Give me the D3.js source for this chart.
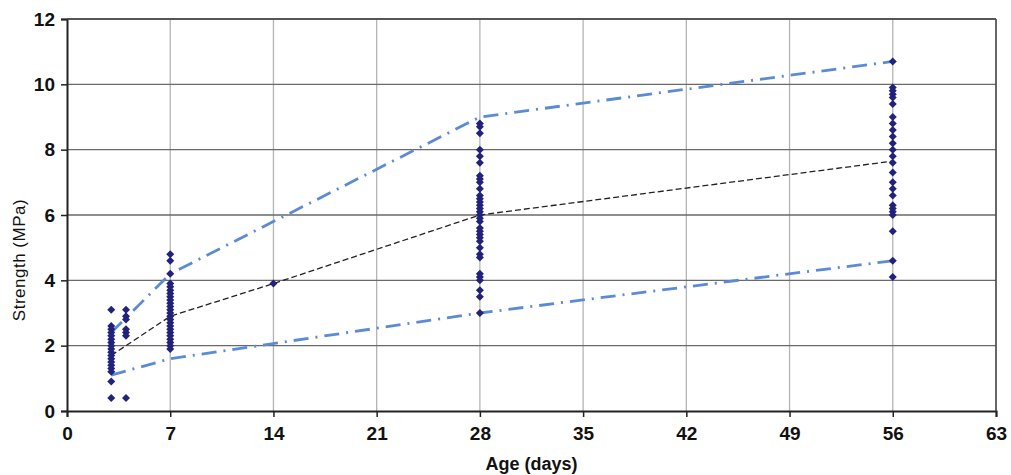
<!DOCTYPE html>
<html>
<head>
<meta charset="utf-8">
<script src="https://cdn.jsdelivr.net/npm/d3@7"></script>
<style>
  body { margin: 0; background: #fff; }
  svg { display: block; }
</style>
</head>
<body>
<div id="chart"></div>
<script>
// test results, age (days) -> strengths (MPa)
var ages = [3, 4, 7, 14, 28, 56];
var day3 = [3.1, 2.6, 2.5, 2.4, 2.3, 2.2, 2.1, 2.0, 1.9, 1.8, 1.7, 1.6, 1.5, 1.4, 1.3, 1.2, 0.9, 0.4];
var day4 = [3.1, 2.9, 2.8, 2.5, 2.4, 2.3, 0.4];
var day7 = [4.8, 4.6, 4.2, 3.9, 3.8, 3.7, 3.6, 3.5, 3.4, 3.3, 3.2, 3.1, 3.0, 2.9, 2.8, 2.7, 2.6,
    2.5, 2.4, 2.3, 2.2, 2.1, 2.0, 1.9];
var day14 = [3.9];
var day28 = [8.8, 8.7, 8.5, 8.0, 7.8, 7.6, 7.2, 7.1, 7.0, 6.8, 6.6, 6.5, 6.4, 6.3, 6.2, 6.1, 6.0,
    5.9, 5.8, 5.6, 5.5, 5.4, 5.3, 5.2, 5.0, 4.8, 4.7, 4.2, 4.1, 4.0, 3.7, 3.5, 3.0];
var day56 = [10.7, 9.9, 9.8, 9.7, 9.6, 9.4, 9.0, 8.8, 8.6, 8.4, 8.2, 8.0, 7.8, 7.6, 7.3, 7.0, 6.8,
    6.6, 6.3, 6.2, 6.1, 6.0, 5.5, 4.6, 4.1];

// envelope and mean curves
var upperAge = [3, 7, 28, 56];
var upperVal = [2.4, 4.2, 9.0, 10.7];
var lowerAge = [3, 7, 28, 56];
var lowerVal = [1.1, 1.6, 3.0, 4.6];
var meanAge = [3, 7, 14, 28, 56];
var meanVal = [1.7, 2.9, 3.9, 6.0, 7.65];

var xTicks = [0, 7, 14, 21, 28, 35, 42, 49, 56, 63];
var yTicks = [0, 2, 4, 6, 8, 10, 12];

var width = 1011, height = 475;
var margin = {left: 67, right: 15, top: 19, bottom: 64};
var w = width - margin.left - margin.right;
var h = height - margin.top - margin.bottom;

var svg = d3.select("#chart").append("svg")
    .attr("width", width)
    .attr("height", height);

var g = svg.append("g")
    .attr("transform", "translate(" + margin.left + "," + margin.top + ")");

var x = d3.scaleLinear().domain([0, 63]).range([0, w]);
var y = d3.scaleLinear().domain([0, 12]).range([h, 0]);

// vertical grid (light)
g.selectAll(".vgrid").data(xTicks.slice(1))
    .enter().append("line")
    .attr("x1", function(d) { return x(d); })
    .attr("x2", function(d) { return x(d); })
    .attr("y1", 0).attr("y2", h)
    .attr("stroke", "#b4b4b4")
    .attr("stroke-width", 1.3);

// horizontal grid (darker)
g.selectAll(".hgrid").data(yTicks.slice(1))
    .enter().append("line")
    .attr("x1", 0).attr("x2", w)
    .attr("y1", function(d) { return y(d); })
    .attr("y2", function(d) { return y(d); })
    .attr("stroke", "#6a6a6a")
    .attr("stroke-width", 1.3);

// axes
var xAxis = g.append("g")
    .attr("transform", "translate(0," + h + ")")
    .call(d3.axisBottom(x).tickValues(xTicks).tickSize(6).tickPadding(10));
var yAxis = g.append("g")
    .call(d3.axisLeft(y).tickValues(yTicks).tickSize(6).tickPadding(6));

[xAxis, yAxis].forEach(function(a) {
    a.select(".domain").attr("stroke", "#222").attr("stroke-width", 2);
    a.selectAll(".tick line").attr("stroke", "#222").attr("stroke-width", 1.5);
    a.selectAll("text")
        .attr("fill", "#111")
        .style("font-family", "'Liberation Sans', Arial, sans-serif")
        .style("font-weight", "bold")
        .style("font-size", "19px");
});
xAxis.selectAll("text")
    .style("font-family", "'Liberation Sans Narrow', 'Liberation Sans', Arial, sans-serif");

// lines
var line = d3.line()
    .x(function(d) { return x(d[0]); })
    .y(function(d) { return y(d[1]); });

function pairs(a, b) {
    return a.map(function(v, i) { return [v, b[i]]; });
}

g.append("path")
    .attr("d", line(pairs(upperAge, upperVal)))
    .attr("fill", "none")
    .attr("stroke", "#5b8bd5")
    .attr("stroke-width", 2.8)
    .attr("stroke-dasharray", "15,7,2,7");

g.append("path")
    .attr("d", line(pairs(lowerAge, lowerVal)))
    .attr("fill", "none")
    .attr("stroke", "#5b8bd5")
    .attr("stroke-width", 2.8)
    .attr("stroke-dasharray", "15,7,2,7");

g.append("path")
    .attr("d", line(pairs(meanAge, meanVal)))
    .attr("fill", "none")
    .attr("stroke", "#222")
    .attr("stroke-width", 1.3)
    .attr("stroke-dasharray", "6,3");

// points
var groups = [day3, day4, day7, day14, day28, day56];
var pts = [];
groups.forEach(function(vals, i) {
    vals.forEach(function(v) { pts.push([ages[i], v]); });
});

// squat diamond marker, ~8px wide
var diamond = "M0,-4L4,0L0,4L-4,0Z";
g.selectAll(".pt").data(pts)
    .enter().append("path")
    .attr("d", diamond)
    .attr("transform", function(d) { return "translate(" + x(d[0]) + "," + y(d[1]) + ")"; })
    .attr("fill", "#22227c");

// frame top and right
g.append("line").attr("x1", 0).attr("x2", w).attr("y1", 0).attr("y2", 0)
    .attr("stroke", "#444").attr("stroke-width", 1.5);
g.append("line").attr("x1", w).attr("x2", w).attr("y1", 0).attr("y2", h)
    .attr("stroke", "#444").attr("stroke-width", 1.5);

// titles
svg.append("text")
    .attr("x", margin.left + w / 2)
    .attr("y", 470)
    .attr("text-anchor", "middle")
    .style("font-family", "'Liberation Sans Narrow', 'Liberation Sans', Arial, sans-serif")
    .style("font-weight", "bold")
    .style("font-size", "18px")
    .attr("fill", "#111")
    .text("Age (days)");

svg.append("text")
    .attr("transform", "translate(25,260) rotate(-90)")
    .attr("text-anchor", "middle")
    .style("font-family", "'Liberation Sans', Arial, sans-serif")
    .style("font-size", "17px")
    .style("letter-spacing", "0.5px")
    .attr("fill", "#111")
    .text("Strength (MPa)");
</script>
</body>
</html>
